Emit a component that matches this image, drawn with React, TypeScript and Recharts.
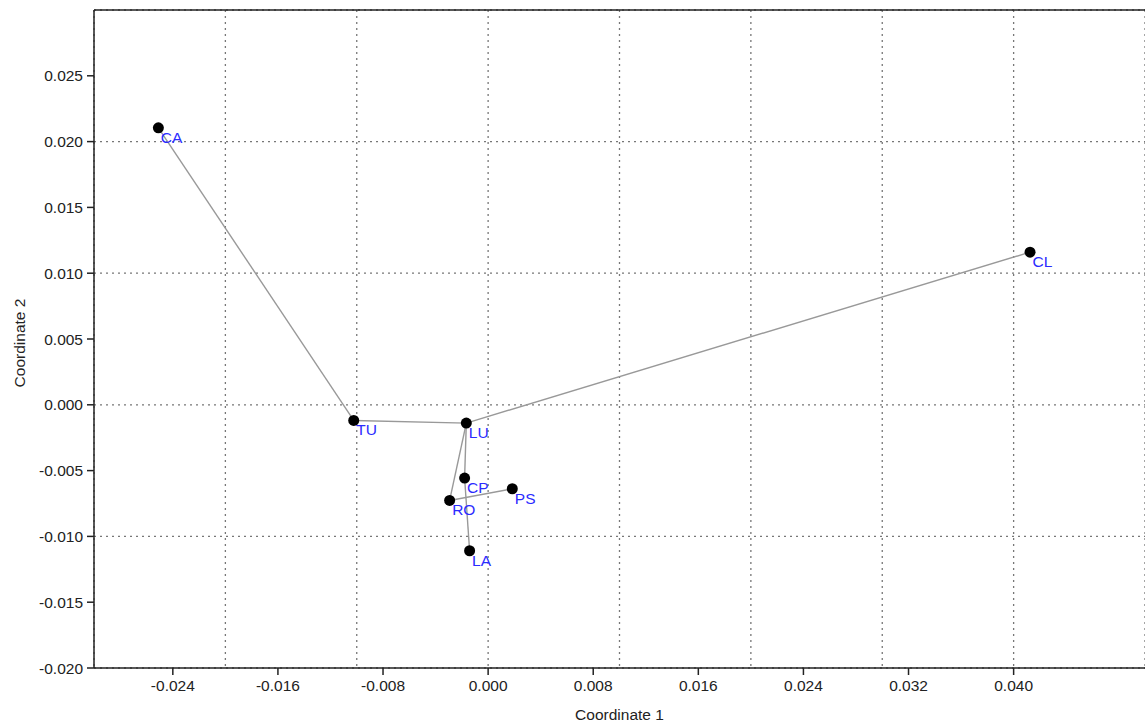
import React from 'react';
import {
  ScatterChart,
  Scatter,
  XAxis,
  YAxis,
  CartesianGrid,
  ReferenceLine,
  Label,
} from 'recharts';

// sample codes and their two coordinates
const names = ['CA', 'TU', 'LU', 'CP', 'RO', 'PS', 'LA', 'CL'];
const coord1 = [-0.0251, -0.01023, -0.00166, -0.00179, -0.00293, 0.00184, -0.00141, 0.04125];
const coord2 = [0.02105, -0.00119, -0.00139, -0.00557, -0.00727, -0.00638, -0.01109, 0.0116];

// minimum spanning tree links
const edges: [string, string][] = [
  ['CA', 'TU'],
  ['TU', 'LU'],
  ['LU', 'CL'],
  ['LU', 'RO'],
  ['RO', 'PS'],
  ['LU', 'CP'],
  ['CP', 'LA'],
];

const xTicks = [-0.024, -0.016, -0.008, 0, 0.008, 0.016, 0.024, 0.032, 0.04];
const yTicks = [-0.02, -0.015, -0.01, -0.005, 0, 0.005, 0.01, 0.015, 0.02, 0.025];
const xGrid = [-0.02, -0.01, 0, 0.01, 0.02, 0.03, 0.04];
const yGrid = [-0.01, 0, 0.01, 0.02];

const xDomain = [-0.03, 0.05];
const yDomain = [-0.02, 0.03];

const points = names.map((name, i) => ({ name, x: coord1[i], y: coord2[i] }));
const byName = Object.fromEntries(points.map((p) => [p.name, p]));

const FONT = 'Arial, "Liberation Sans", sans-serif';
const fmt = (v: number) => v.toFixed(3);

const PointShape = (props: any) => {
  const { cx, cy, payload } = props;
  return (
    <g>
      <circle cx={cx} cy={cy} r={5.5} fill="#000" />
      <text x={cx + 2.5} y={cy + 15} fill="#2b2bff" fontSize={15.5} fontFamily={FONT}>
        {payload.name}
      </text>
    </g>
  );
};

export default function App() {
  return (
    <div style={{ position: 'absolute', left: 0, top: 0, background: '#fff' }}>
      <ScatterChart
        width={1145}
        height={725}
        margin={{ top: 10, right: 0, bottom: 0, left: 0 }}
      >
        <XAxis xAxisId="gx" type="number" dataKey="x" domain={xDomain} ticks={xGrid} hide allowDataOverflow />
        <YAxis yAxisId="gy" type="number" dataKey="y" domain={yDomain} ticks={yGrid} hide allowDataOverflow />
        <CartesianGrid
          xAxisId="gx"
          yAxisId="gy"
          stroke="#777"
          strokeDasharray="2 4"
          strokeWidth={1.3}
        />
        <XAxis
          type="number"
          dataKey="x"
          domain={xDomain}
          ticks={xTicks}
          tickFormatter={fmt}
          allowDataOverflow
          height={57}
          tickSize={7}
          tickMargin={5}
          axisLine={{ stroke: '#222', strokeWidth: 1.5 }}
          tickLine={{ stroke: '#222', strokeWidth: 1.5 }}
          tick={{ fill: '#222', fontSize: 15.5, fontFamily: FONT }}
        >
          <Label
            value="Coordinate 1"
            position="insideBottom"
            offset={5}
            fill="#222"
            fontSize={15.5}
            fontFamily={FONT}
          />
        </XAxis>
        <YAxis
          type="number"
          dataKey="y"
          domain={yDomain}
          ticks={yTicks}
          tickFormatter={fmt}
          allowDataOverflow
          width={94}
          tickSize={7}
          tickMargin={4}
          axisLine={{ stroke: '#222', strokeWidth: 1.5 }}
          tickLine={{ stroke: '#222', strokeWidth: 1.5 }}
          tick={{ fill: '#222', fontSize: 15.5, fontFamily: FONT }}
        >
          <Label
            content={({ viewBox }: any) => {
              const cx = 25;
              const cy = viewBox.y + viewBox.height / 2 + 4;
              return (
                <text
                  x={cx}
                  y={cy}
                  transform={`rotate(-90, ${cx}, ${cy})`}
                  textAnchor="middle"
                  fill="#222"
                  fontSize={15.5}
                  fontFamily={FONT}
                >
                  Coordinate 2
                </text>
              );
            }}
          />
        </YAxis>
        <ReferenceLine y={0.03} stroke="#222" strokeWidth={1.5} />
        {edges.map(([a, b]) => (
          <ReferenceLine
            key={a + b}
            segment={[
              { x: byName[a].x, y: byName[a].y },
              { x: byName[b].x, y: byName[b].y },
            ]}
            stroke="#999"
            strokeWidth={1.4}
          />
        ))}
        <Scatter data={points} shape={PointShape} isAnimationActive={false} />
      </ScatterChart>
    </div>
  );
}
